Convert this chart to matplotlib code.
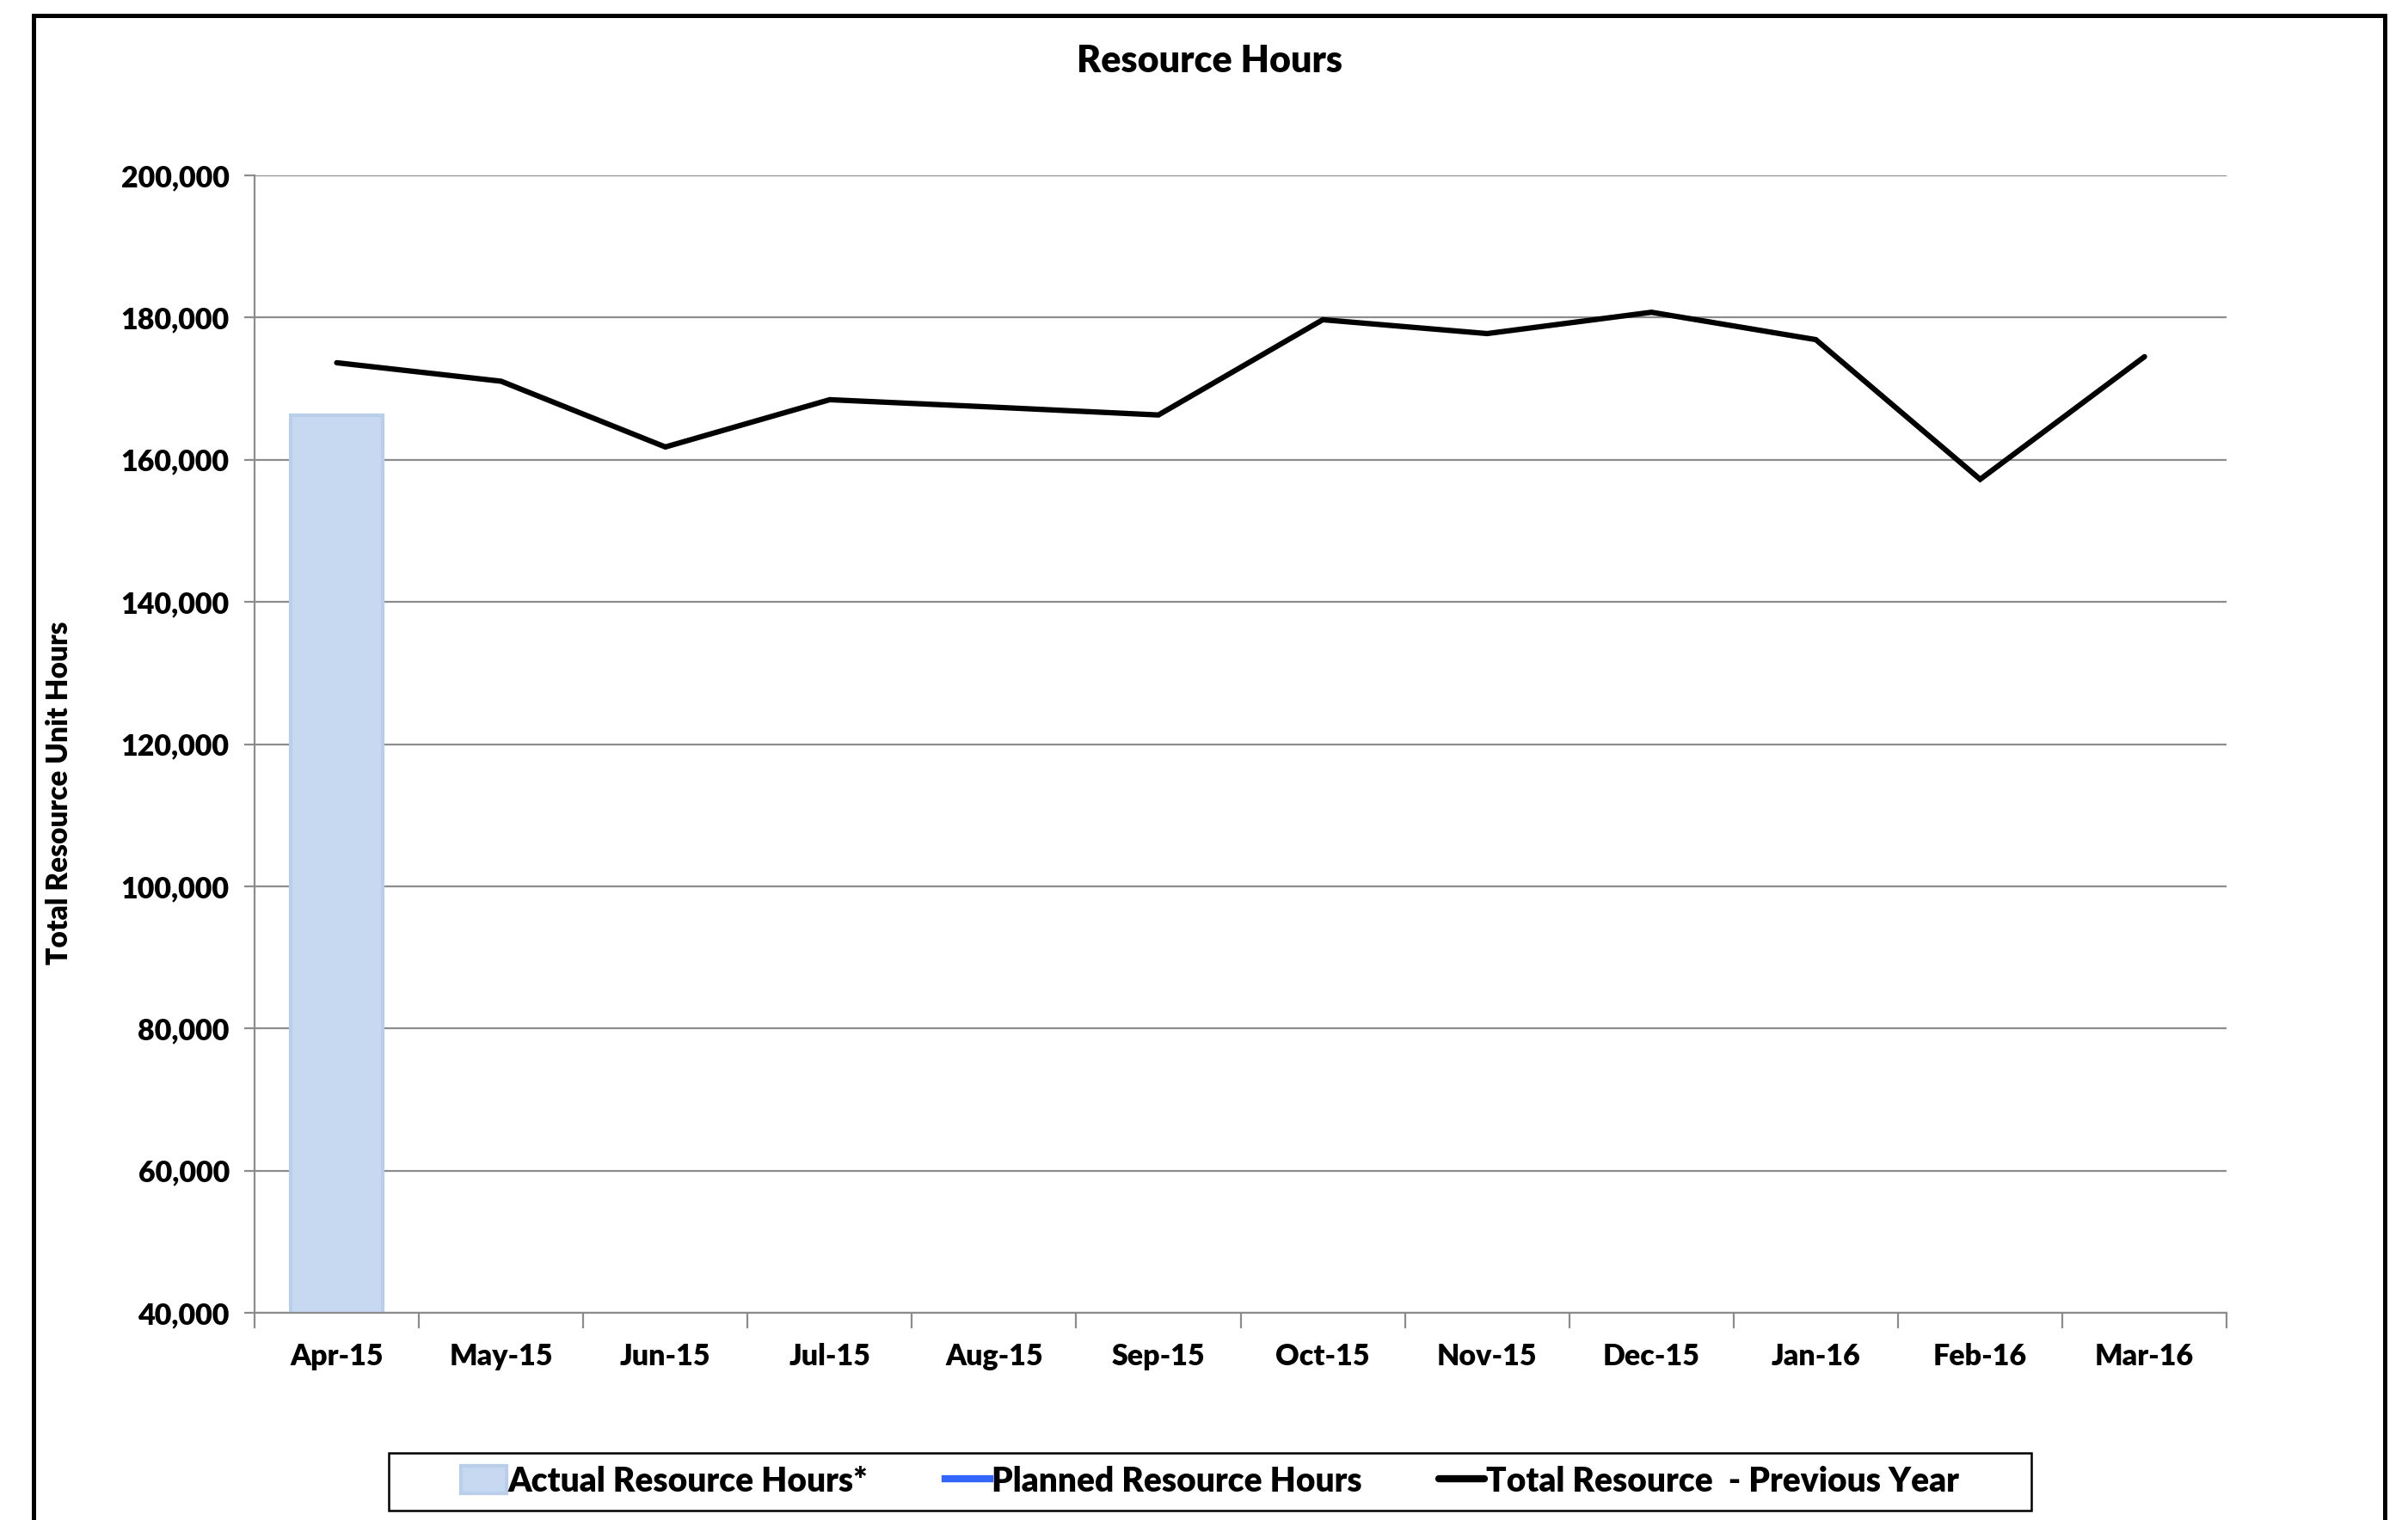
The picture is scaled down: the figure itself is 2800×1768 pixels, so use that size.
import matplotlib.pyplot as plt
from matplotlib.patches import Rectangle
from matplotlib.ticker import FuncFormatter, MultipleLocator
import numpy as np

plt.rcParams['font.family'] = ['Lato', 'DejaVu Sans']
plt.rcParams['font.weight'] = 'heavy'

months = ['Apr-15', 'May-15', 'Jun-15', 'Jul-15', 'Aug-15', 'Sep-15',
          'Oct-15', 'Nov-15', 'Dec-15', 'Jan-16', 'Feb-16', 'Mar-16']
actual_hours = [166300]  # only April reported so far
planned_hours = [np.nan] * 12
previous_year = [173650, 171050, 161800, 168450, 167400, 166300,
                 179700, 177750, 180750, 176900, 157250, 174500]

fig = plt.figure(figsize=(28, 17.68), dpi=100)
ax = fig.add_axes([0.1057, 0.1363, 0.819, 0.7483])

x = np.arange(len(months))
bars = ax.bar(x[:len(actual_hours)], actual_hours, width=0.56, color='#C6D9F1',
              edgecolor='#B8CEEA', linewidth=3, label='Actual Resource Hours*', zorder=2)
planned, = ax.plot(x, planned_hours, color='#3366FF', lw=4.5,
                   label='Planned Resource Hours', zorder=3)
prev, = ax.plot(x, previous_year, color='black', lw=4.5, solid_joinstyle='miter',
                solid_capstyle='round', label='Total Resource  - Previous Year', zorder=4)

ax.set_xlim(-0.5, 11.5)
ax.set_ylim(40000, 200000)
ax.yaxis.set_major_locator(MultipleLocator(20000))
ax.yaxis.set_major_formatter(FuncFormatter(lambda v, p: f'{int(v):,}'))
ax.grid(axis='y', color='#8C8C8C', lw=1.6, zorder=0)

ax.set_xticks(x)
ax.set_xticklabels(months)
ax.set_xticks(np.arange(-0.5, 12, 1), minor=True)
ax.tick_params(axis='x', which='major', length=0, pad=25, labelsize=24.5)
ax.tick_params(axis='x', which='minor', length=13, width=1.6, color='#8C8C8C')
ax.tick_params(axis='y', length=9, width=1.6, color='#8C8C8C', pad=12, labelsize=24.5)

for s in ['top', 'right']:
    ax.spines[s].set_visible(False)
for s in ['left', 'bottom']:
    ax.spines[s].set_color('#8C8C8C')
    ax.spines[s].set_linewidth(1.6)

ax.set_ylabel('Total Resource Unit Hours', fontsize=24, fontweight='heavy')
ax.yaxis.set_label_coords(-0.0919, 0.4575)
fig.text(0.5025, 0.9596, 'Resource Hours', ha='center', va='center',
         fontsize=31, fontweight='heavy')

leg = fig.legend(handles=[bars, planned, prev], loc='center',
                 bbox_to_anchor=(0.5025, 0.0253), ncol=3,
                 fontsize=28, frameon=False,
                 handlelength=1.35, handletextpad=0.05, columnspacing=2.3,
                 handleheight=0.9)
for line in leg.get_lines():
    line.set_linewidth(6)

# legend box, wider than the entries
fig.patches.append(Rectangle((0.1614, 0.006), 0.6823, 0.0384, transform=fig.transFigure,
                             fill=False, edgecolor='black', lw=1.8, zorder=10))

# chart area border
fig.patches.append(Rectangle((0.014, -0.05), 0.9765, 1.04, transform=fig.transFigure,
                             fill=False, edgecolor='black', lw=3.6, zorder=10))

fig.savefig('out.png', dpi=100)
